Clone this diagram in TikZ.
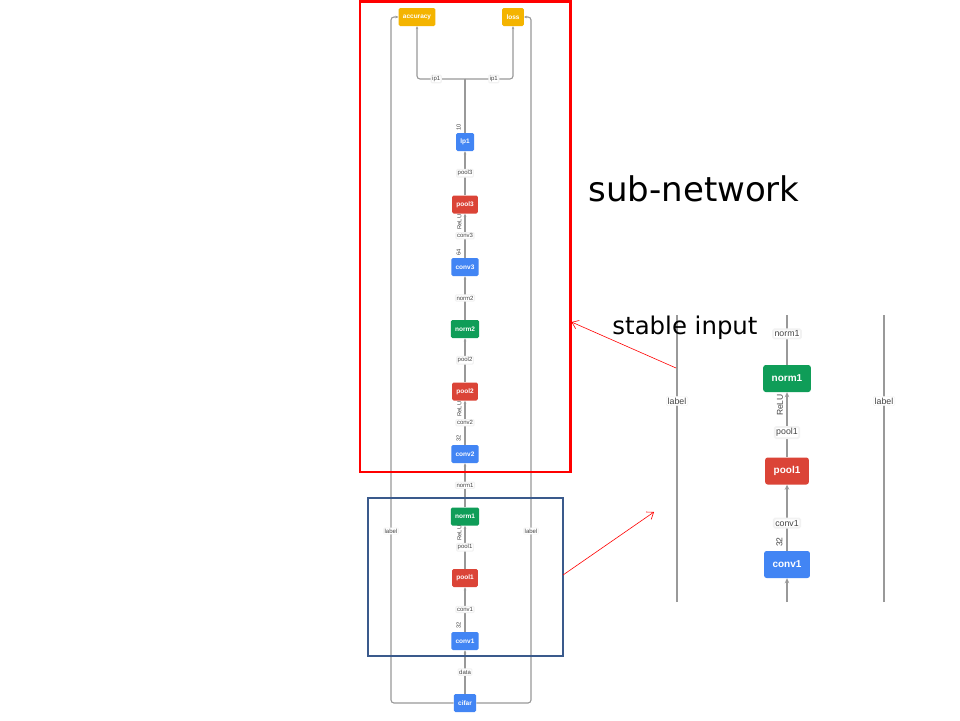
\documentclass[tikz,border=0pt]{standalone}
\usepackage{fontspec}
\setmainfont{Liberation Sans}
\newfontfamily\annfont{DejaVu Sans}
\usetikzlibrary{arrows.meta}
\definecolor{gblue}{HTML}{4285F4}
\definecolor{gred}{HTML}{DB4437}
\definecolor{ggreen}{HTML}{0F9D58}
\definecolor{gyellow}{HTML}{F4B400}
\definecolor{lgray}{HTML}{999999}
\definecolor{tgray}{HTML}{444444}
\definecolor{boxblue}{HTML}{3A5A8C}
\tikzset{
  lay/.style={rounded corners=1.5pt, text=white, font=\bfseries\fontsize{6.5}{7}\selectfont, inner xsep=4.3pt, minimum height=18pt, inner ysep=0pt},
  blay/.style={lay, fill=gblue},
  rlay/.style={lay, fill=gred},
  glay/.style={lay, fill=ggreen},
  ylay/.style={lay, fill=gyellow},
  big/.style={rounded corners=2.5pt, text=white, font=\bfseries\fontsize{10}{12}\selectfont, inner xsep=8.5pt, minimum height=27pt, inner ysep=0pt},
  bblue/.style={big, fill=gblue},
  bred/.style={big, fill=gred},
  bgreen/.style={big, fill=ggreen},
  conn/.style={draw=lgray, line width=1.1pt, -{Stealth[length=3pt,width=2.6pt]}},
  plain/.style={draw=lgray, line width=1.1pt},
  bconn/.style={draw=lgray, line width=1.8pt, -{Stealth[length=5pt,width=4.5pt]}},
  bplain/.style={draw=lgray, line width=1.8pt},
  elab/.style={fill=white, draw=black!5, rounded corners=1pt, text=tgray, font=\fontsize{6}{7}\selectfont, inner sep=1pt},
  belab/.style={fill=white, draw=black!5, rounded corners=1.5pt, text=tgray, font=\fontsize{8.8}{10}\selectfont, inner sep=1.5pt},
  small/.style={text=tgray, font=\fontsize{5.8}{6}\selectfont, rotate=90, inner sep=0pt},
  bsmall/.style={text=tgray, font=\fontsize{8.5}{9}\selectfont, rotate=90, inner sep=0pt},
  ann/.style={font=\annfont, text=black, inner sep=0pt},
  redarr/.style={draw=red, line width=0.6pt, -{Straight Barb[length=6pt,width=9pt]}}
}
\begin{document}
\begin{tikzpicture}[x=1pt,y=-1pt]
\useasboundingbox (0,0) rectangle (960,720);
\fill[white] (0,0) rectangle (960,720);

% ---------- left network ----------
\node[ylay] (accuracy) at (417,17) {accuracy};
\node[ylay] (loss) at (513,17) {loss};
\node[blay] (lp1) at (465,142) {lp1};
\node[rlay] (pool3) at (465,204.5) {pool3};
\node[blay] (conv3) at (465,267) {conv3};
\node[glay] (norm2) at (465,329) {norm2};
\node[rlay] (pool2) at (465,391.5) {pool2};
\node[blay] (conv2) at (465,454) {conv2};
\node[glay] (norm1) at (465,516.5) {norm1};
\node[rlay] (pool1) at (465,578) {pool1};
\node[blay] (conv1) at (465,641) {conv1};
\node[blay] (cifar) at (465,703) {cifar};

\coordinate (br) at (465,79);
\coordinate (lx) at (391,360);
\coordinate (rx) at (531,360);

\draw[plain] (lp1.north) -- (br);
\draw[conn, rounded corners=3pt] (br) -| node[pos=0.3, elab] {ip1} (accuracy.south);
\draw[conn, rounded corners=3pt] (br) -| node[pos=0.3, elab] {ip1} (loss.south);

\draw[conn] (pool3) -- node[elab] {pool3} (lp1);
\draw[conn] (conv3) -- node[elab] {conv3} (pool3);
\draw[conn] (norm2) -- node[elab] {norm2} (conv3);
\draw[conn] (pool2) -- node[elab] {pool2} (norm2);
\draw[conn] (conv2) -- node[elab] {conv2} (pool2);
\draw[conn] (norm1) -- node[elab] {norm1} (conv2);
\draw[conn] (pool1) -- node[elab] {pool1} (norm1);
\draw[conn] (conv1) -- node[elab] {conv1} (pool1);
\draw[conn] (cifar) -- node[elab] {data} (conv1);

\draw[conn, rounded corners=3pt] (cifar.west) -| (lx) |- (accuracy.west);
\draw[conn, rounded corners=3pt] (cifar.east) -| (rx) |- (loss.east);
\node[elab] (labl) at (391,531) {label};
\node[elab] (labr) at (531,531) {label};

\node[small] (n10) at (458.5,127) {10};
\node[small] (n64) at (458.5,252) {64};
\node[small] (n32b) at (458.5,438) {32};
\node[small] (n32a) at (458.5,625) {32};
\node[small] (r3) at (459.5,222) {ReLU};
\node[small] (r2) at (459.5,409) {ReLU};
\node[small] (r1) at (459.5,533) {ReLU};

% frames
\draw[red, line width=2.6pt] (360,1.3) rectangle (570.7,472);
\draw[boxblue, line width=2pt] (367.5,497.5) rectangle (563,656);

% ---------- right zoomed part ----------
\node[bgreen] (bnorm1) at (787,378.5) {norm1};
\node[bred] (bpool1) at (787,471) {pool1};
\node[bblue] (bconv1) at (787,564.5) {conv1};
\coordinate (ctop) at (787,315);
\coordinate (cbot) at (787,602);
\coordinate (ltop) at (677,315);
\coordinate (lbot) at (677,602);
\coordinate (rtop) at (884,315);
\coordinate (rbot) at (884,602);

\draw[bplain] (bnorm1.north) -- node[belab, pos=0.62] {norm1} (ctop);
\draw[bconn] (bpool1) -- node[belab, pos=0.38] {pool1} (bnorm1);
\draw[bconn] (bconv1) -- node[belab, pos=0.42] {conv1} (bpool1);
\draw[bconn] (cbot) -- (bconv1);
\draw[bplain] (lbot) -- (ltop);
\draw[bplain] (rbot) -- (rtop);
\node[belab] (blabl) at (677,401) {label};
\node[belab] (blabr) at (884,401) {label};
\node[bsmall] (b32) at (779.5,542) {32};
\node[bsmall] (brelu) at (780,405) {ReLU};

% ---------- annotations ----------
\node[ann, font=\annfont\fontsize{34}{38}\selectfont] (subnet) at (694,189) {sub-network};
\node[ann, font=\annfont\fontsize{24.4}{28}\selectfont] (stable) at (685,328) {stable input};
\coordinate (a1s) at (676,368);
\coordinate (a2s) at (563,575);
\coordinate (a2e) at (654,512);
\draw[redarr] (a1s) -- (571.5,322);
\draw[redarr] (a2s) -- (a2e);
\end{tikzpicture}
\end{document}
